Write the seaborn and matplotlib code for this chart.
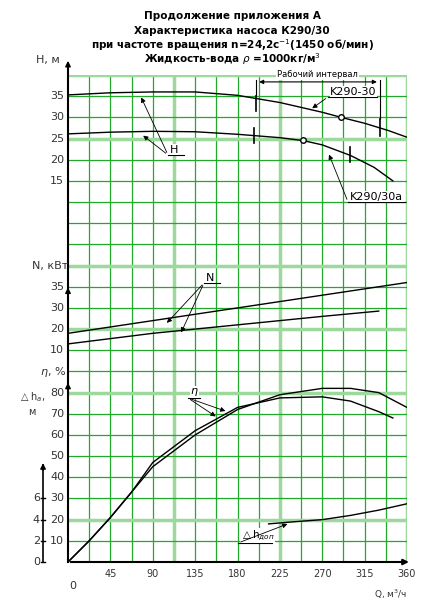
import numpy as np
import pandas as pd
import matplotlib
matplotlib.use("Agg")
import matplotlib.pyplot as plt
import seaborn as sns

# values
q_h1 = [0, 45, 90, 135, 180, 225, 270, 290, 315, 340, 360]
h1 = [35.3, 35.8, 36.0, 36.0, 35.2, 33.5, 31.2, 30.0, 28.6, 26.9, 25.3]
q_h2 = [0, 45, 90, 135, 180, 225, 250, 270, 300, 325, 345]
h2 = [26.1, 26.5, 26.7, 26.6, 26.0, 25.2, 24.5, 23.5, 21.0, 18.2, 15.0]
q_n1 = [0, 90, 180, 270, 360]
n1 = [18, 24, 30, 33, 36]
q_n2 = [0, 90, 180, 270, 330]
n2 = [13, 18, 22, 26, 28.5]
q_e1 = [0, 22.5, 45, 67.5, 90, 135, 180, 225, 270, 300, 330, 360]
e1 = [0, 10, 21, 33, 45, 60, 72, 79, 82, 82, 80, 73]
q_e2 = [0, 22.5, 45, 67.5, 90, 135, 180, 225, 270, 300, 330, 345]
e2 = [0, 10, 21, 33, 47, 62, 73, 77.5, 78, 76, 71, 68]
q_dh = [213, 240, 270, 300, 330, 360]
dh = [3.6, 3.8, 4.0, 4.4, 4.9, 5.5]

x_ticks = [45, 90, 135, 180, 225, 270, 315, 360]
h_ticks = [15, 20, 25, 30, 35]
n_ticks = [10, 20, 30, 35]
e_ticks = [10, 20, 30, 40, 50, 60, 70, 80]
dh_ticks = [0, 2, 4, 6]

# scale mappings into grid rows
def h_row(v): return 18 + (np.asarray(v) - 15) / 5
def n_row(v):
    v = np.asarray(v, float)
    return np.where(v <= 30, 9 + v / 10, 12 + (v - 30) / 5)
def e_row(v): return np.asarray(v) / 10
def dh_row(v): return np.asarray(v) / 2

# pixel helpers (reference is 430x600)
def qx(px): return (px - 68) / 339 * 360
def ry(py): return (562 - py) / 21.17

fig = plt.figure(figsize=(4.3, 6), dpi=100)
ax = fig.add_axes([68 / 430, 38 / 600, 339 / 430, 487 / 600])
ax.set_xlim(0, 360)
ax.set_ylim(0, 23)
ax.axis("off")

green, lgreen = "#1faa2a", "#9dd89d"
for q in np.arange(22.5, 361, 22.5):
    thick = q in (112.5, 225, 360)
    ax.axvline(q, color=lgreen if thick else green, lw=2.5 if thick else 0.9, zorder=0)
for r in range(1, 24):
    thick = r in (2, 8, 11, 14, 20, 23)
    ax.axhline(r, color=lgreen if thick else green, lw=2.5 if thick else 0.9, zorder=0)

kw = dict(color="black", lw=1.0, legend=False, ax=ax)
sns.lineplot(x=q_h1, y=h_row(h1), **kw)
sns.lineplot(x=q_h2, y=h_row(h2), **kw)
sns.lineplot(x=q_n1, y=n_row(n1), **kw)
sns.lineplot(x=q_n2, y=n_row(n2), **kw)
sns.lineplot(x=q_e1, y=e_row(e1), **kw)
sns.lineplot(x=q_e2, y=e_row(e2), **kw)
sns.lineplot(x=q_dh, y=dh_row(dh), **kw)
ax.plot([290], h_row([30]), "o", mfc="white", mec="black", ms=4)
ax.plot([250], h_row([24.6]), "o", mfc="white", mec="black", ms=4)

# working-range ticks
for q, lo, hi in [(200, 31.5, 35.0), (331, 25.5, 29.5), (198, 24.0, 27.6), (299, 19.5, 23.0)]:
    ax.plot([q, q], h_row([lo, hi]), color="black", lw=1.2)
ax.plot([331, 331], [h_row(29.5), ry(80)], color="black", lw=0.8)
ax.plot([200, 200], [h_row(35), ry(80)], color="black", lw=0.8)
ax.annotate("", xy=(200, ry(82)), xytext=(331, ry(82)),
            arrowprops=dict(arrowstyle="<|-|>", color="black", lw=0.8, mutation_scale=6))
ax.text(265, ry(79), "Рабочий интервал", ha="center", va="bottom", fontsize=6,
        bbox=dict(fc="white", ec="none", pad=0.5))

# axes lines and arrows
ax.plot([0, 0], [0, 23.5], color="black", lw=1.5, clip_on=False)
for r in (8.3, 12.8, 23.5):
    ax.annotate("", xy=(0, r + 0.3), xytext=(0, r - 0.3),
                arrowprops=dict(arrowstyle="-|>", color="black", lw=1, mutation_scale=8),
                annotation_clip=False)
ax.annotate("", xy=(365, 0), xytext=(0, 0),
            arrowprops=dict(arrowstyle="-|>", color="black", lw=1.5, mutation_scale=8),
            annotation_clip=False)
ax.plot([-26.5, -26.5], [0, 4.6], color="black", lw=1.2, clip_on=False)
ax.annotate("", xy=(-26.5, 4.8), xytext=(-26.5, 4.2),
            arrowprops=dict(arrowstyle="-|>", color="black", lw=1, mutation_scale=8),
            annotation_clip=False)

fs = 8
for v in h_ticks:
    ax.text(-4, h_row(v), str(v), ha="right", va="center", fontsize=fs, color="#333")
for v in n_ticks:
    ax.text(-4, n_row(v), str(v), ha="right", va="center", fontsize=fs, color="#333")
for v in e_ticks:
    ax.text(-4, e_row(v), str(v), ha="right", va="center", fontsize=fs, color="#333")
for v in dh_ticks:
    ax.plot([-28.5, -24.5], [dh_row(v)] * 2, color="black", lw=1, clip_on=False)
    ax.text(-30, dh_row(v), str(v), ha="right", va="center", fontsize=fs, color="#333")
for v in x_ticks:
    ax.text(v, -0.35, str(v), ha="center", va="top", fontsize=7, color="#333")
ax.text(5, -0.9, "0", ha="center", va="top", fontsize=fs, color="#333")
ax.text(360, -1.2, "Q, м$^3$/ч", ha="right", va="top", fontsize=6.5, color="#333")

ax.text(qx(60), ry(60), "H, м", ha="right", va="center", fontsize=fs, color="#333")
ax.text(qx(68), ry(266), "N, кВт", ha="right", va="center", fontsize=fs, color="#333")
ax.text(qx(66), ry(372), "$\\eta$, %", ha="right", va="center", fontsize=fs, color="#333")
ax.text(qx(32), ry(404), "$\\triangle$h$_a$,\nм", ha="center", va="center", fontsize=7,
        color="#333", linespacing=1.4)

def leader(text, tx, ty, ulen, targets, fsize=8):
    ax.text(qx(tx), ry(ty), text, ha="left", va="bottom", fontsize=fsize,
            bbox=dict(fc="white", ec="none", pad=0.3))
    ax.plot([qx(tx - 2), qx(tx + ulen)], [ry(ty), ry(ty)], color="black", lw=0.8)
    for px, py in targets:
        ax.annotate("", xy=(qx(px), ry(py)), xytext=(qx(tx - 2), ry(ty)),
                    arrowprops=dict(arrowstyle="-|>", color="black", lw=0.6, mutation_scale=7))

leader("H", 170, 155, 14, [(140, 95), (141, 134)])
leader("K290-30", 330, 97, 47, [(310, 110)])
leader("K290/30a", 350, 202, 55, [(328, 152)])
leader("N", 206, 283, 14, [(165, 325), (180, 335)])
leader("$\\eta$", 190, 398, 10, [(228, 412), (218, 418)])
leader("$\\triangle$h$_{доп}$", 240, 543, 32, [(290, 523)], fsize=7.5)

titles = ["Продолжение приложения А", "Характеристика насоса К290/30",
          "при частоте вращения n=24,2с$^{-1}$(1450 об/мин)",
          "Жидкость-вода $\\rho$ =1000кг/м$^3$"]
for i, t in enumerate(titles):
    fig.text(232 / 430, 1 - (16 + i * 14.5) / 600, t, ha="center", va="center",
             fontsize=7.5, fontweight="bold")

fig.savefig("out.png", dpi=100)
